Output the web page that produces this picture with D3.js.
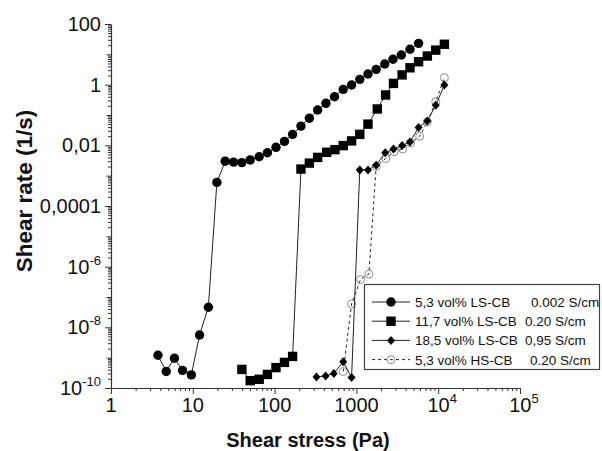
<!DOCTYPE html>
<html>
<head>
<meta charset="utf-8">
<script src="https://cdn.jsdelivr.net/npm/d3@7"></script>
<style>
  body { margin: 0; background: #fff; }
  svg { display: block; font-family: "Liberation Sans", Arial, sans-serif; }
</style>
</head>
<body>
<svg id="chart" width="602" height="451"></svg>
<script>
// 5,3 vol% LS-CB (filled circles)
var ls53Stress = [3.75, 4.73, 5.96, 7.5, 9.6, 12.1, 15.5, 19.7, 24.9, 31.5, 39.8, 50.3, 64.8, 81.7, 104, 132, 166, 210, 266, 336, 424, 540, 690, 873, 1100, 1385, 1745, 2220, 2800, 3540, 4520, 5760];
var ls53Rate = [1.2e-9, 3.5e-10, 9.6e-10, 3.8e-10, 2.7e-10, 5.6e-9, 4.6e-8, 6e-4, 3.0e-3, 2.8e-3, 2.7e-3, 3.3e-3, 4.2e-3, 5.7e-3, 8.6e-3, 1.35e-2, 2.3e-2, 4.3e-2, 7.8e-2, 0.146, 0.243, 0.40, 0.70, 0.975, 1.5, 2.24, 3.2, 4.8, 6.9, 9.5, 14.7, 23];

// 11,7 vol% LS-CB (filled squares)
var ls117Stress = [39.8, 50.3, 64.8, 81.7, 104, 132, 166, 210, 266, 336, 433, 547, 690, 873, 1100, 1385, 1800, 2275, 2840, 3620, 4520, 5760, 7370, 9330, 11900];
var ls117Rate = [4.1e-10, 1.74e-10, 1.94e-10, 2.8e-10, 4.7e-10, 7e-10, 1.1e-9, 1.65e-3, 2.6e-3, 4.0e-3, 5.9e-3, 7.2e-3, 9.8e-3, 1.4e-2, 2.3e-2, 0.05, 0.158, 0.457, 1.1, 2.1, 3.6, 5.7, 8.8, 13.8, 21.5];

// 18,5 vol% LS-CB (filled diamonds)
var ls185Stress = [325, 420, 530, 690, 873, 1100, 1385, 1745, 2250, 2840, 3620, 4520, 5760, 7370, 9330, 11900];
var ls185Rate = [2.3e-10, 2.5e-10, 3.0e-10, 7.4e-10, 2.2e-10, 1.55e-3, 1.55e-3, 2.2e-3, 5.7e-3, 7.6e-3, 9.8e-3, 1.3e-2, 3.9e-2, 6.4e-2, 0.21, 0.98];

// 5,3 vol% HS-CB (open circles, dashed)
var hs53Stress = [690, 873, 1125, 1420, 1745, 2290, 2890, 3680, 4590, 5930, 7370, 9330, 11900];
var hs53Rate = [3.5e-10, 5.9e-8, 3.8e-7, 5.7e-7, 2e-3, 3.7e-3, 6.2e-3, 7.6e-3, 1.2e-2, 2.0e-2, 0.06, 0.275, 1.7];

var seriesNames = ["5,3 vol% LS-CB", "11,7 vol% LS-CB", "18,5 vol% LS-CB", "5,3 vol% HS-CB"];
var seriesConductivity = ["0.002 S/cm", "0.20 S/cm", "0,95 S/cm", "0.20 S/cm"];

var yMajorTicks = [1e2, 1, 1e-2, 1e-4, 1e-6, 1e-8, 1e-10];
var yTickLabels = [["100"], ["1"], ["0,01"], ["0,0001"], ["10", "-6"], ["10", "-8"], ["10", "-10"]];
var xMajorTicks = [1, 10, 100, 1000, 1e4, 1e5];
var xTickLabels = [["1"], ["10"], ["100"], ["1000"], ["10", "4"], ["10", "5"]];

var svg = d3.select("#chart");

var x = d3.scaleLog().domain([1, 1e5]).range([111, 520]),
    y = d3.scaleLog().domain([1e-10, 100]).range([388, 24]);

function zip(xs, ys) {
    return xs.map(function(v, i) { return {x: v, y: ys[i]}; });
}

var series = [
    {name: seriesNames[0], cond: seriesConductivity[0], data: zip(ls53Stress, ls53Rate), symbol: 'circle', dash: null},
    {name: seriesNames[1], cond: seriesConductivity[1], data: zip(ls117Stress, ls117Rate), symbol: 'square', dash: null},
    {name: seriesNames[2], cond: seriesConductivity[2], data: zip(ls185Stress, ls185Rate), symbol: 'diamond', dash: null},
    {name: seriesNames[3], cond: seriesConductivity[3], data: zip(hs53Stress, hs53Rate), symbol: 'open', dash: '3,3'}
];

// minor ticks
var xMinor = [], yMinor = [], yDecade = [];
for (var e = 0; e < 5; e++) {
    for (var k = 2; k < 10; k++) xMinor.push(k * Math.pow(10, e));
}
for (var e = -10; e < 2; e++) {
    for (var k = 2; k < 10; k++) yMinor.push(k * Math.pow(10, e));
    if ((e + 10) % 2 === 1) yDecade.push(Math.pow(10, e));
}

var axes = svg.append('g').attr('class', 'axes');

axes.append('g')
    .attr('transform', 'translate(0,388)')
    .call(d3.axisBottom(x).tickValues(xMinor).tickFormat('').tickSize(3).tickSizeOuter(0))
    .call(function(g) { g.select('.domain').remove(); });

axes.append('g')
    .attr('transform', 'translate(111,0)')
    .call(d3.axisLeft(y).tickValues(yMinor).tickFormat('').tickSize(3).tickSizeOuter(0))
    .call(function(g) { g.select('.domain').remove(); });

axes.append('g')
    .attr('transform', 'translate(111,0)')
    .call(d3.axisLeft(y).tickValues(yDecade).tickFormat('').tickSize(4.5).tickSizeOuter(0))
    .call(function(g) { g.select('.domain').remove(); });

var xAxisG = axes.append('g')
    .attr('transform', 'translate(0,388)')
    .call(d3.axisBottom(x).tickValues(xMajorTicks).tickFormat('').tickSize(6).tickSizeOuter(0));

var yAxisG = axes.append('g')
    .attr('transform', 'translate(111,0)')
    .call(d3.axisLeft(y).tickValues(yMajorTicks).tickFormat('').tickSize(6).tickSizeOuter(0));

axes.selectAll('.tick line, .domain').attr('stroke', '#333').attr('stroke-width', 1);
axes.selectAll('.domain').attr('stroke-width', 1.2);

// tick labels with superscripts
function writeLabel(text, parts) {
    text.append('tspan').text(parts[0]);
    if (parts.length > 1) {
        text.append('tspan')
            .attr('font-size', 13)
            .attr('dy', -9)
            .text(parts[1]);
    }
}

xMajorTicks.forEach(function(v, i) {
    var t = svg.append('text')
        .attr('x', x(v) + (xTickLabels[i].length > 1 ? 4 : 0))
        .attr('y', 412)
        .attr('text-anchor', 'middle')
        .attr('font-size', 20)
        .attr('fill', '#111');
    writeLabel(t, xTickLabels[i]);
});

yMajorTicks.forEach(function(v, i) {
    var t = svg.append('text')
        .attr('x', 101)
        .attr('y', y(v) + 7)
        .attr('text-anchor', 'end')
        .attr('font-size', 20)
        .attr('fill', '#111');
    writeLabel(t, yTickLabels[i]);
});

svg.append('text')
    .attr('x', 308)
    .attr('y', 447)
    .attr('text-anchor', 'middle')
    .attr('font-size', 20)
    .attr('font-weight', 'bold')
    .attr('fill', '#111')
    .text('Shear stress (Pa)');

svg.append('text')
    .attr('transform', 'translate(32,191) rotate(-90)')
    .attr('text-anchor', 'middle')
    .attr('font-size', 22.5)
    .attr('font-weight', 'bold')
    .attr('fill', '#111')
    .text('Shear rate (1/s)');

// symbols
function drawSymbol(g, type, cx, cy) {
    if (type === 'circle') {
        g.append('circle').attr('cx', cx).attr('cy', cy).attr('r', 4.7).attr('fill', '#000');
    } else if (type === 'square') {
        g.append('rect').attr('x', cx - 4.7).attr('y', cy - 4.7).attr('width', 9.4).attr('height', 9.4).attr('fill', '#000');
    } else if (type === 'diamond') {
        g.append('path')
            .attr('d', 'M' + cx + ',' + (cy - 4.5) + 'L' + (cx + 4) + ',' + cy + 'L' + cx + ',' + (cy + 4.5) + 'L' + (cx - 4) + ',' + cy + 'Z')
            .attr('fill', '#000');
    } else {
        g.append('circle').attr('cx', cx).attr('cy', cy).attr('r', 4)
            .attr('fill', 'none').attr('stroke', '#8a8a8a').attr('stroke-width', 1);
    }
}

var line = d3.line()
    .x(function(d) { return x(d.x); })
    .y(function(d) { return y(d.y); });

var plot = svg.append('g').attr('class', 'plot');
[3, 0, 1, 2].forEach(function(i) {
    var s = series[i];
    var g = plot.append('g');
    g.append('path')
        .datum(s.data)
        .attr('d', line)
        .attr('fill', 'none')
        .attr('stroke', '#222')
        .attr('stroke-width', 1)
        .attr('stroke-dasharray', s.dash);
    s.data.forEach(function(d) {
        drawSymbol(g, s.symbol, x(d.x), y(d.y));
    });
});

// legend
var legend = svg.append('g').attr('class', 'legend');
legend.append('rect')
    .attr('x', 364.5).attr('y', 284.5)
    .attr('width', 235).attr('height', 85)
    .attr('fill', '#fff')
    .attr('stroke', '#444')
    .attr('stroke-width', 1.2);

var condX = [531, 525, 525, 530];
series.forEach(function(s, i) {
    var cy = 302 + i * 19.2;
    var g = legend.append('g');
    g.append('line')
        .attr('x1', 372).attr('x2', 410)
        .attr('y1', cy).attr('y2', cy)
        .attr('stroke', '#222').attr('stroke-width', 1)
        .attr('stroke-dasharray', s.dash);
    drawSymbol(g, s.symbol, 391, cy);
    g.append('text')
        .attr('x', 415).attr('y', cy + 5)
        .attr('font-size', 13.5)
        .attr('fill', '#111')
        .text(s.name);
    g.append('text')
        .attr('x', condX[i]).attr('y', cy + 5)
        .attr('font-size', 13.5)
        .attr('fill', '#111')
        .text(s.cond);
});
</script>
</body>
</html>
